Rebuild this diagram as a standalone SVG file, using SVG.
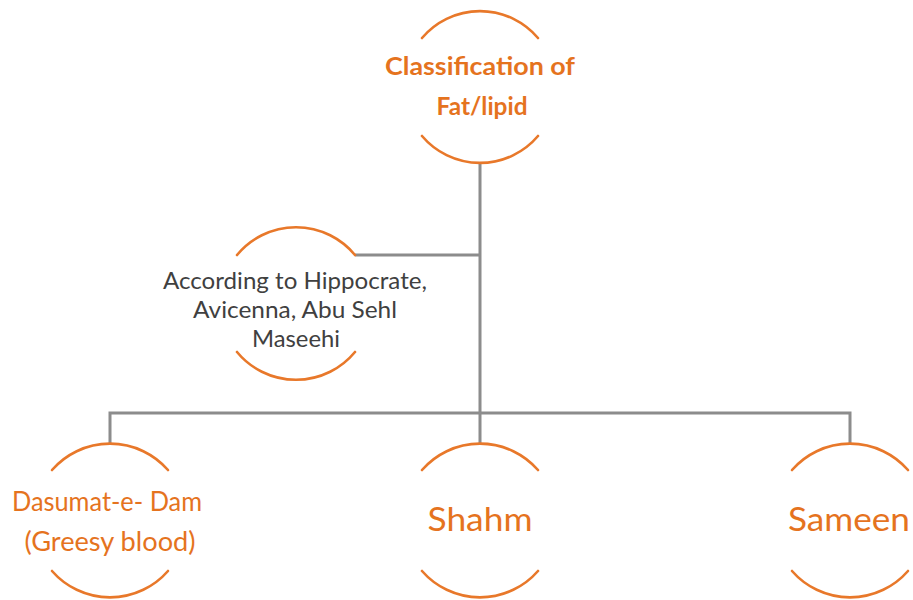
<svg xmlns="http://www.w3.org/2000/svg" width="913" height="600" viewBox="0 0 913 600">
<style>
.arc{fill:none;stroke:#E8782A;stroke-width:2.6;stroke-linecap:round}
.conn{fill:none;stroke:#8C8C8C;stroke-width:3}
.t{font-family:Lato,"Open Sans","Liberation Sans",sans-serif;text-anchor:middle}
.or{fill:#E5731E}
.bold{font-weight:bold}
.gray{fill:#404040}
</style>
<rect width="913" height="600" fill="#FFFFFF"/>
<g id="connectors">
<polyline class="conn" points="480,164 480,443"/>
<polyline class="conn" points="355,255 480,255"/>
<polyline class="conn" points="110,443 110,413 850,413 850,443"/>
</g>
<g id="node-root">
<path class="arc" d="M422,38 A76,76 0 0 1 538,38"/>
<path class="arc" d="M422,136 A76,76 0 0 0 538,136"/>
<text class="t or bold" x="480" y="75" font-size="24" textLength="190" lengthAdjust="spacingAndGlyphs">Classification of</text>
<text class="t or bold" x="482" y="115" font-size="24" textLength="91" lengthAdjust="spacingAndGlyphs">Fat/lipid</text>
</g>
<g id="node-source">
<path class="arc" d="M237,255 A76.5,76.5 0 0 1 355,255"/>
<path class="arc" d="M237,352 A76.5,76.5 0 0 0 355,352"/>
<text class="t gray" x="295" y="289" font-size="24" textLength="264" lengthAdjust="spacingAndGlyphs">According to Hippocrate,</text>
<text class="t gray" x="295" y="318" font-size="24" textLength="204" lengthAdjust="spacingAndGlyphs">Avicenna, Abu Sehl</text>
<text class="t gray" x="296" y="347" font-size="24" textLength="88" lengthAdjust="spacingAndGlyphs">Maseehi</text>
</g>
<g id="node-dasumat">
<path class="arc" d="M52,470 A77,77 0 0 1 168,470"/>
<path class="arc" d="M52,571 A77,77 0 0 0 168,571"/>
<text class="t or" x="107" y="511" font-size="26" textLength="190" lengthAdjust="spacingAndGlyphs">Dasumat-e- Dam</text>
<text class="t or" x="110" y="551" font-size="26" textLength="171" lengthAdjust="spacingAndGlyphs">(Greesy blood)</text>
</g>
<g id="node-shahm">
<path class="arc" d="M422,470 A77,77 0 0 1 538,470"/>
<path class="arc" d="M422,571 A77,77 0 0 0 538,571"/>
<text class="t or" x="480" y="531" font-size="32" textLength="105" lengthAdjust="spacingAndGlyphs">Shahm</text>
</g>
<g id="node-sameen">
<path class="arc" d="M792,470 A77,77 0 0 1 908,470"/>
<path class="arc" d="M792,571 A77,77 0 0 0 908,571"/>
<text class="t or" x="849" y="531" font-size="32" textLength="122" lengthAdjust="spacingAndGlyphs">Sameen</text>
</g>
</svg>
